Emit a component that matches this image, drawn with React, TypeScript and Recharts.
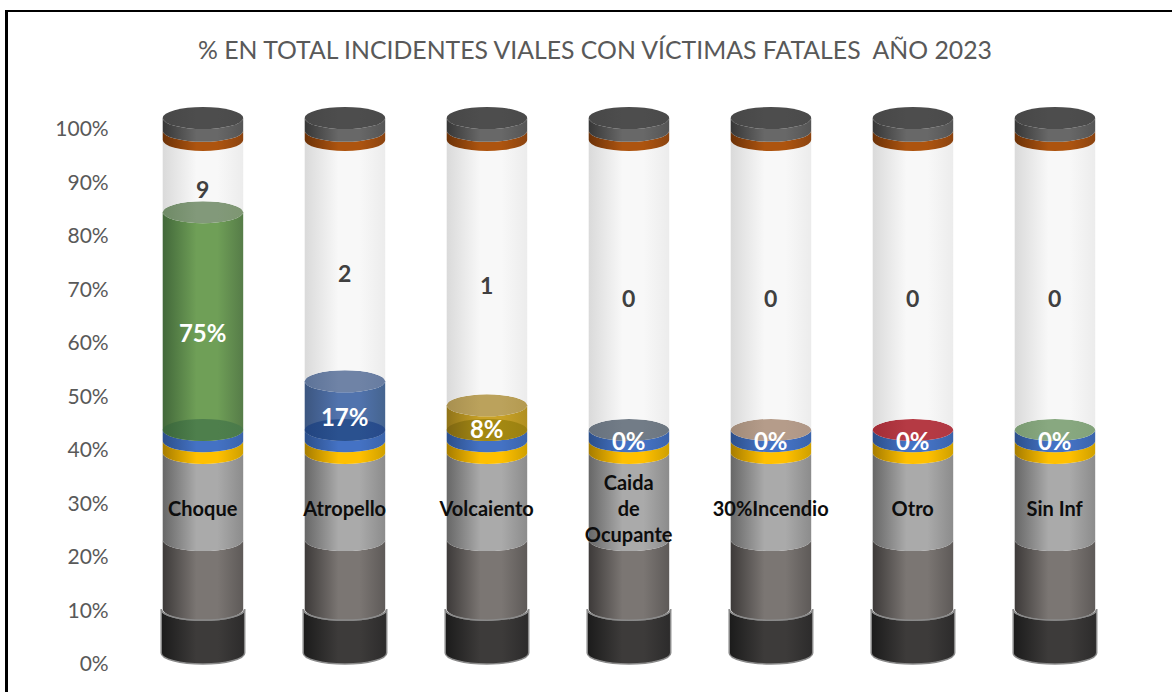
import React from "react";
import { ComposedChart, Bar, Line, YAxis, XAxis, LabelList } from "recharts";

// categories and labels as printed on the chart
const categories = ["Choque", "Atropello", "Volcaiento", "Caida de Ocupante", "Incendio", "Otro", "Sin Inf"];
const categoryLabels = ["Choque", "Atropello", "Volcaiento", "Caida\nde\nOcupante", "30%Incendio", "Otro", "Sin Inf"];
const pctLabels = ["75%", "17%", "8%", "0%", "0%", "0%", "0%"];
const countLabels = ["9", "2", "1", "0", "0", "0", "0"];
const yTicks = [0, 10, 20, 30, 40, 50, 60, 70, 80, 90, 100];

// stacked segment heights
const baseBlack = [8.2, 8.2, 8.2, 8.2, 8.2, 8.2, 8.2];
const darkGrey = [12.9, 12.9, 12.9, 12.9, 12.9, 12.9, 12.9];
const midGrey = [16.3, 16.3, 16.3, 16.3, 16.3, 16.3, 16.3];
const yellowBand = [2.2, 2.2, 2.2, 2.2, 2.2, 2.2, 2.2];
const blueBand = [2.1, 2.1, 2.1, 2.1, 2.1, 2.1, 2.1];
const share = [40.7, 9.1, 4.6, 0, 0, 0, 0];
const remainder = [13.5, 45.1, 49.6, 54.2, 54.2, 54.2, 54.2];
const brownBand = [1.7, 1.7, 1.7, 1.7, 1.7, 1.7, 1.7];
const topCap = [2.4, 2.4, 2.4, 2.4, 2.4, 2.4, 2.4];

const data = categories.map((name, i) => {
  const below = baseBlack[i] + darkGrey[i] + midGrey[i] + yellowBand[i] + blueBand[i];
  return {
    name,
    baseBlack: baseBlack[i],
    darkGrey: darkGrey[i],
    midGrey: midGrey[i],
    yellowBand: yellowBand[i],
    blueBand: blueBand[i],
    share: share[i],
    remainder: remainder[i],
    brownBand: brownBand[i],
    topCap: topCap[i],
    catY: baseBlack[i] + darkGrey[i] + midGrey[i] / 2,
    pctY: below + share[i] / 2,
    countY: below + share[i] + remainder[i] / 2 - 0.3,
    catText: categoryLabels[i],
    pctText: pctLabels[i],
    countText: countLabels[i],
  };
});

const RY = 11;

// left, middle, right shades of the horizontal cylinder shading
const grads: Record<string, string[]> = {
  black: ["#1b1b1b", "#3d3b3a", "#2c2b2b"],
  dark: ["#3d3a39", "#7b7673", "#5e5a58"],
  grey: ["#676767", "#aaaaaa", "#8c8c8c"],
  yellow: ["#a67c00", "#ffc000", "#cfa000"],
  blue: ["#2c4f8a", "#4472c4", "#3b64ab"],
  white: ["#dadada", "#f8f8f8", "#ececec"],
  brown: ["#6c3208", "#ad540f", "#8c4410"],
  cap: ["#373737", "#686868", "#555555"],
  capTop: ["#474747", "#4d4d4d", "#4a4a4a"],
  s0: ["#42683a", "#6f9f57", "#567c48"],
  s1: ["#3c5680", "#5173ad", "#45648f"],
  s2: ["#8f7318", "#c9a227", "#b08f20"],
  f0: ["#6f8a66", "#82997a", "#7e9672"],
  f1: ["#5d7398", "#6f83a6", "#677ca0"],
  f2: ["#a89050", "#bba25c", "#b49a50"],
  f3: ["#67717d", "#727c87", "#6c7680"],
  f4: ["#a08a78", "#b59c8a", "#ae9686"],
  f5: ["#a32c36", "#b53a44", "#b03844"],
  f6: ["#7a9a72", "#88a880", "#82a27a"],
  b0: ["#3a663a", "#4e7f4c", "#4a7a4a"],
  b1: ["#22447f", "#2a518f", "#27498a"],
  b2: ["#7d6512", "#a38812", "#9a8010"],
};

const url = (k: string) => `url(#g-${k})`;

type SegOpts = { side: string; top?: string; grow?: number; stroke?: string; backBottom?: boolean; rim?: string };

// one slice of a cylinder; the bar rect runs between the front edges of its two ellipses
function cylinder({ side, top, backBottom, grow = 0, stroke, rim }: SegOpts) {
  return (p: any) => {
    const x = p.x - grow;
    const w = p.width + grow * 2;
    const rx = w / 2;
    const yt = p.y - RY;
    const yb = p.y + p.height - RY;
    const bottomArc = backBottom
      ? `A${rx} ${RY} 0 0 0 ${x} ${yb}`
      : `A${rx} ${RY} 0 0 1 ${x} ${yb}`;
    const d = `M${x} ${yt}A${rx} ${RY} 0 0 0 ${x + w} ${yt}L${x + w} ${yb}${bottomArc}Z`;
    return (
      <g>
        <path d={d} fill={url(side)} stroke={stroke} strokeWidth={stroke ? 1.5 : 0} />
        {top && <ellipse cx={x + rx} cy={yt} rx={rx} ry={RY} fill={url(top)} />}
        {rim && (
          <path
            d={`M${x - 1.5} ${yb}A${rx + 1.5} ${RY} 0 0 0 ${x + w + 1.5} ${yb}`}
            fill="none"
            stroke={rim}
            strokeWidth={1.5}
          />
        )}
      </g>
    );
  };
}

// the coloured share slice: back face at its foot, side wall, lit top face
function ShareSlice(p: any) {
  const i = p.index;
  const rx = p.width / 2;
  const cx = p.x + rx;
  const yt = p.y - RY;
  const yb = p.y + p.height - RY;
  if (!p.height) return <ellipse cx={cx} cy={yt} rx={rx} ry={RY} fill={url(`f${i}`)} />;
  const d = `M${p.x} ${yt}A${rx} ${RY} 0 0 0 ${p.x + p.width} ${yt}L${p.x + p.width} ${yb}A${rx} ${RY} 0 0 1 ${p.x} ${yb}Z`;
  return (
    <g>
      <path d={d} fill={url(`s${i}`)} />
      <ellipse cx={cx} cy={yb} rx={rx} ry={RY} fill={url(`b${i}`)} />
      <ellipse cx={cx} cy={yt} rx={rx} ry={RY} fill={url(`f${i}`)} />
    </g>
  );
}

const labelAt = (p: any) => ({ x: p.viewBox?.x ?? p.x, y: p.viewBox?.y ?? p.y });

function CategoryLabel(p: any) {
  const { x, y } = labelAt(p);
  const lines = String(p.value).split("\n");
  return (
    <text x={x} textAnchor="middle" fontFamily="Lato" fontWeight={700} fontSize={20} fill="#0d0d0d">
      {lines.map((l, i) => (
        <tspan key={i} x={x} y={y + (i - (lines.length - 1) / 2) * 26} dominantBaseline="central">{l}</tspan>
      ))}
    </text>
  );
}

const textLabel = (fill: string, size: number) => (p: any) => {
  const { x, y } = labelAt(p);
  return (
    <text x={x} y={y} textAnchor="middle" dominantBaseline="central" fontFamily="Lato" fontWeight={700} fontSize={size} fill={fill}>
      {p.value}
    </text>
  );
};

export default function App() {
  return (
    <div style={{ position: "absolute", left: 0, top: 0, width: 1172, height: 692, overflow: "hidden", background: "#fff" }}>
      <div style={{ position: "absolute", left: 5, top: 10, width: 1170, height: 700, borderLeft: "3px solid #000", borderTop: "2px solid #000" }} />
      <div style={{ position: "absolute", left: 0, top: 0 }}>
        <ComposedChart
          width={1172}
          height={692}
          data={data}
          margin={{ top: 129, right: 46.3, bottom: 28, left: 0 }}
          barSize={80.5}
        >
          <defs>
            {Object.entries(grads).map(([k, [l, m, r]]) => (
              <linearGradient key={k} id={`g-${k}`} x1="0" y1="0" x2="1" y2="0">
                <stop offset="0%" stopColor={l} />
                <stop offset="42%" stopColor={m} />
                <stop offset="68%" stopColor={m} />
                <stop offset="100%" stopColor={r} />
              </linearGradient>
            ))}
          </defs>
          <text x={595} y={49} textAnchor="middle" dominantBaseline="central" fontFamily="Lato" fontSize={24.8} fill="#595959" style={{ whiteSpace: "pre" }}>
            {"% EN TOTAL INCIDENTES VIALES CON VÍCTIMAS FATALES  AÑO 2023"}
          </text>
          <XAxis dataKey="name" hide />
          <YAxis
            width={131.7}
            domain={[0, 100]}
            ticks={yTicks}
            interval={0}
            axisLine={false}
            tickLine={false}
            tickMargin={17}
            tick={{ fontSize: 21, fontFamily: "Lato", fill: "#595959" }}
            tickFormatter={(v: number) => `${v}%`}
          />
          <Bar dataKey="baseBlack" stackId="a" isAnimationActive={false} shape={cylinder({ side: "black", grow: 1.5, stroke: "#8a8a8a" })} />
          <Bar dataKey="darkGrey" stackId="a" isAnimationActive={false} shape={cylinder({ side: "dark", rim: "#8a8a8a" })} />
          <Bar dataKey="midGrey" stackId="a" isAnimationActive={false} shape={cylinder({ side: "grey" })} />
          <Bar dataKey="yellowBand" stackId="a" isAnimationActive={false} shape={cylinder({ side: "yellow" })} />
          <Bar dataKey="blueBand" stackId="a" isAnimationActive={false} shape={cylinder({ side: "blue" })} />
          <Bar dataKey="share" stackId="a" isAnimationActive={false} shape={ShareSlice} />
          <Bar dataKey="remainder" stackId="a" isAnimationActive={false} shape={cylinder({ side: "white", backBottom: true })} />
          <Bar dataKey="brownBand" stackId="a" isAnimationActive={false} shape={cylinder({ side: "brown" })} />
          <Bar dataKey="topCap" stackId="a" isAnimationActive={false} shape={cylinder({ side: "cap", top: "capTop" })} />
          <Line dataKey="catY" stroke="none" dot={false} isAnimationActive={false}>
            <LabelList dataKey="catText" content={CategoryLabel} />
          </Line>
          <Line dataKey="pctY" stroke="none" dot={false} isAnimationActive={false}>
            <LabelList dataKey="pctText" content={textLabel("#ffffff", 24)} />
          </Line>
          <Line dataKey="countY" stroke="none" dot={false} isAnimationActive={false}>
            <LabelList dataKey="countText" content={textLabel("#404040", 23)} />
          </Line>
        </ComposedChart>
      </div>
    </div>
  );
}
